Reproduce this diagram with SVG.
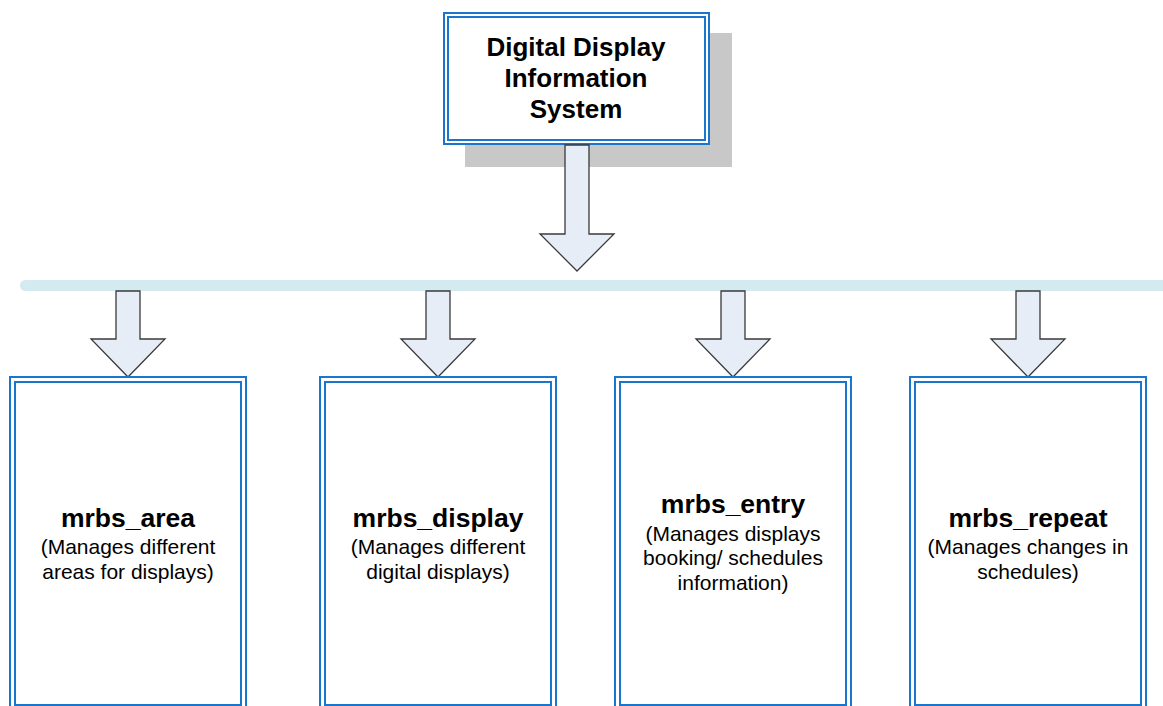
<svg xmlns="http://www.w3.org/2000/svg" width="1163" height="706" viewBox="0 0 1163 706">
  <style>
    .outer { fill: #ffffff; stroke: #1a76cc; stroke-width: 2; }
    .inner { fill: none; stroke: #1a76cc; stroke-width: 2; }
    .arrow { fill: #e6edf7; stroke: #3a3a3a; stroke-width: 1.3; stroke-linejoin: miter; }
    .title { font-family: "Liberation Sans", Arial, sans-serif; font-weight: bold; font-size: 26px; fill: #000; text-anchor: middle; }
    .name { font-family: "Liberation Sans", Arial, sans-serif; font-weight: bold; font-size: 26.5px; fill: #000; text-anchor: middle; }
    .desc { font-family: "Liberation Sans", Arial, sans-serif; font-size: 21px; fill: #000; text-anchor: middle; }
  </style>
  <rect width="1163" height="706" fill="#ffffff"/>

  <!-- root node with drop shadow -->
  <g id="node-root">
    <rect x="465" y="33" width="267" height="134" fill="#c8c8c8"/>
    <rect class="outer" x="444" y="13" width="265" height="131"/>
    <rect class="inner" x="448" y="17" width="257" height="123"/>
    <text class="title" x="576" y="56">Digital Display</text>
    <text class="title" x="576" y="87">Information</text>
    <text class="title" x="576" y="118">System</text>
  </g>

  <!-- connectors: bus bar and block arrows -->
  <g id="connectors">
    <rect x="20" y="280" width="1160" height="11" rx="5.5" fill="#d3eaf0"/>
    <polygon class="arrow" points="565,145 589,145 589,234 614,234 577,271 540,234 565,234"/>
    <polygon class="arrow" points="116,291 140,291 140,339 165,339 128,377 91,339 116,339"/>
    <polygon class="arrow" points="426,291 450,291 450,339 475,339 438,377 401,339 426,339"/>
    <polygon class="arrow" points="721,291 745,291 745,339 770,339 733,377 696,339 721,339"/>
    <polygon class="arrow" points="1016,291 1040,291 1040,339 1065,339 1028,377 991,339 1016,339"/>
  </g>

  <g id="node-area">
    <rect class="outer" x="10" y="377" width="236" height="333"/>
    <rect class="inner" x="15" y="382" width="226" height="323"/>
    <text class="name" x="128" y="527">mrbs_area</text>
    <text class="desc" x="128" y="554">(Manages different</text>
    <text class="desc" x="128" y="579">areas for displays)</text>
  </g>

  <g id="node-display">
    <rect class="outer" x="320" y="377" width="236" height="333"/>
    <rect class="inner" x="325" y="382" width="226" height="323"/>
    <text class="name" x="438" y="527">mrbs_display</text>
    <text class="desc" x="438" y="554">(Manages different</text>
    <text class="desc" x="438" y="579">digital displays)</text>
  </g>

  <g id="node-entry">
    <rect class="outer" x="615" y="377" width="236" height="333"/>
    <rect class="inner" x="620" y="382" width="226" height="323"/>
    <text class="name" x="733" y="513">mrbs_entry</text>
    <text class="desc" x="733" y="541">(Manages displays</text>
    <text class="desc" x="733" y="565">booking/ schedules</text>
    <text class="desc" x="733" y="590">information)</text>
  </g>

  <g id="node-repeat">
    <rect class="outer" x="910" y="377" width="236" height="333"/>
    <rect class="inner" x="915" y="382" width="226" height="323"/>
    <text class="name" x="1028" y="527">mrbs_repeat</text>
    <text class="desc" x="1028" y="554">(Manages changes in</text>
    <text class="desc" x="1028" y="579">schedules)</text>
  </g>
</svg>
